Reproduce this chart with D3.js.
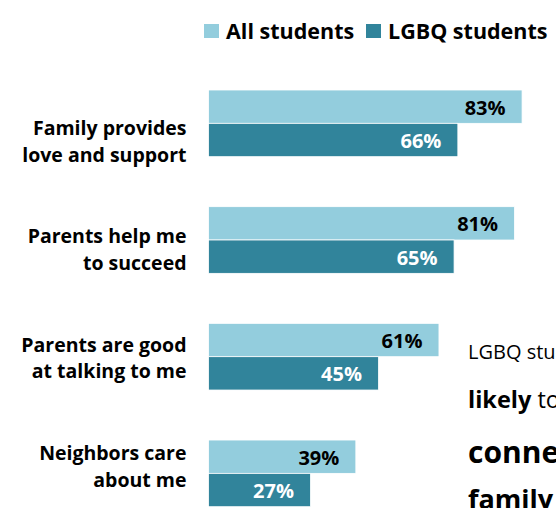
<!DOCTYPE html>
<html>
<head>
<meta charset="utf-8">
<script src="https://cdn.jsdelivr.net/npm/d3@7"></script>
<style>
  html, body { margin: 0; padding: 0; background: #fff; }
  svg { display: block; font-family: "Open Sans", sans-serif; }
</style>
</head>
<body>
<script>
// Share of students agreeing with each statement, by group (%)
const categories = [
  ["Family provides", "love and support"],
  ["Parents help me", "to succeed"],
  ["Parents are good", "at talking to me"],
  ["Neighbors care", "about me"]
];
const seriesNames = ["All students", "LGBQ students"];
const allStudents = [83, 81, 61, 39];
const lgbqStudents = [66, 65, 45, 27];
const seriesColors = ["#93CDDD", "#31849B"];
const labelColors = ["#000000", "#ffffff"];

const W = 556, H = 508;
const svg = d3.select("body").append("svg")
  .attr("width", W).attr("height", H);

const keys = categories.map((_, i) => i);
const series = [allStudents, lgbqStudents];

// Scales
const x = d3.scaleLinear().domain([0, 100]).range([208.5, 586.3]);
const yGroup = d3.scaleBand().domain(keys).range([90, 506.7])
  .paddingInner(0.4286).paddingOuter(0);
const ySeries = d3.scaleBand().domain([0, 1]).range([0, yGroup.bandwidth()]);
const yLabel = d3.scalePoint().domain(keys).range([141, 466]);

// Bars
const groups = svg.append("g").selectAll("g")
  .data(keys).join("g")
  .attr("transform", i => `translate(0,${yGroup(i)})`);

groups.selectAll("rect")
  .data(i => series.map((s, k) => ({ k, v: s[i] })))
  .join("rect")
  .attr("x", x(0))
  .attr("y", d => ySeries(d.k))
  .attr("width", d => x(d.v) - x(0))
  .attr("height", ySeries.bandwidth())
  .attr("fill", d => seriesColors[d.k])
  .attr("stroke", "#ffffff")
  .attr("stroke-width", 0.8);

// Value labels inside bar ends
groups.selectAll("text.val")
  .data(i => series.map((s, k) => ({ k, v: s[i] })))
  .join("text")
  .attr("class", "val")
  .attr("x", d => x(d.v) - 16.5)
  .attr("y", d => ySeries(d.k) + ySeries.bandwidth() / 2 + 8)
  .attr("text-anchor", "end")
  .attr("font-size", 20)
  .attr("font-weight", 700)
  .attr("fill", d => labelColors[d.k])
  .text(d => d.v + "%");

// Category labels (two lines each)
const cat = svg.append("g").selectAll("text")
  .data(keys).join("text")
  .attr("text-anchor", "end")
  .attr("font-size", 19.5)
  .attr("font-weight", 700)
  .attr("fill", "#000");
cat.append("tspan")
  .attr("x", 186.5).attr("y", i => yLabel(i) - 6)
  .text(i => categories[i][0]);
cat.append("tspan")
  .attr("x", 186.5).attr("y", i => yLabel(i) + 20.5)
  .text(i => categories[i][1]);

// Legend
const legendX = [204, 366];
const legend = svg.append("g").selectAll("g")
  .data(seriesNames).join("g")
  .attr("transform", (d, i) => `translate(${legendX[i]},24)`);
legend.append("rect")
  .attr("width", 15).attr("height", 14)
  .attr("fill", (d, i) => seriesColors[i]);
legend.append("text")
  .attr("x", 22).attr("y", 14.5)
  .attr("font-size", 21.5).attr("font-weight", 700)
  .attr("fill", "#000")
  .text(d => d);

// Side note
const note = svg.append("g").attr("transform", "translate(468,0)");
note.append("text").attr("y", 358.5).attr("font-size", 20).attr("fill", "#000")
  .text("LGBQ students are less");
const l2 = note.append("text").attr("y", 408).attr("font-size", 23.5).attr("fill", "#000");
l2.append("tspan").attr("font-weight", 700).text("likely");
l2.append("tspan").text(" to feel");
note.append("text").attr("y", 463).attr("font-size", 30).attr("font-weight", 700)
  .attr("fill", "#000").text("connected to");
note.append("text").attr("y", 509).attr("font-size", 27).attr("font-weight", 700)
  .attr("fill", "#000").text("family");
</script>
</body>
</html>
